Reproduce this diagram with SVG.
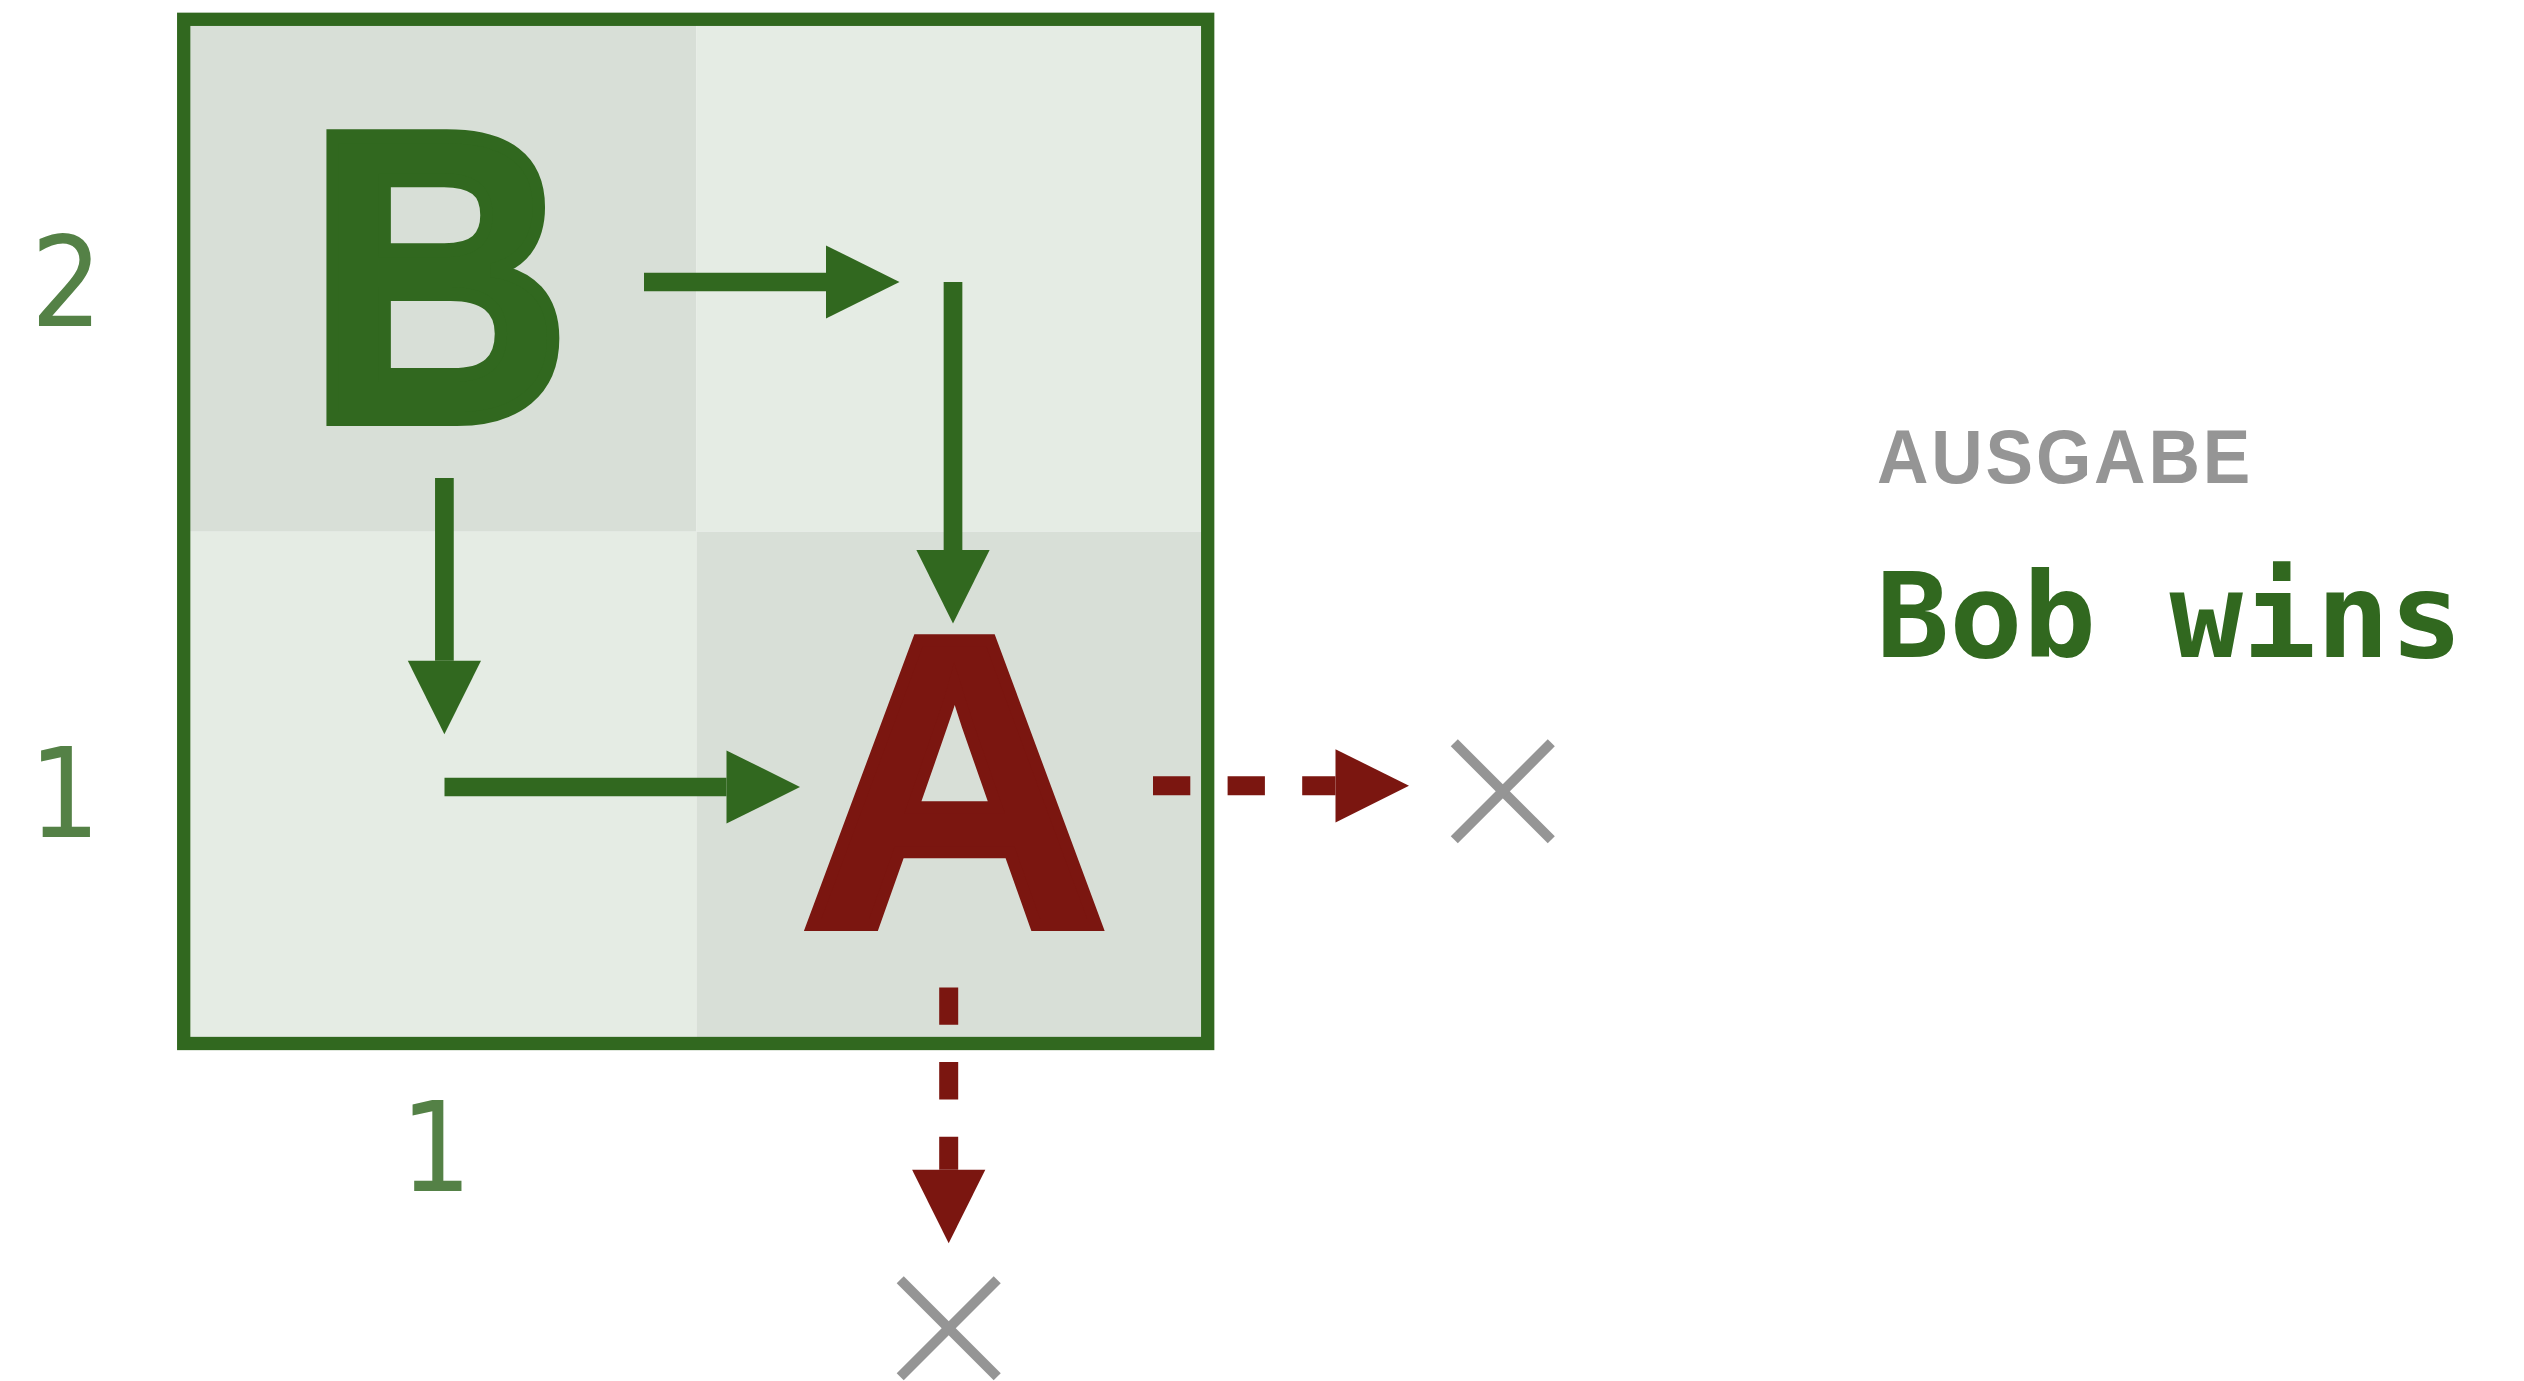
<svg xmlns="http://www.w3.org/2000/svg" width="2524" height="1381" viewBox="0 0 2524 1381">
  <style>
    .cell-dark { fill: #d8dfd7; }
    .cell-light { fill: #e5ece4; }
    .frame { fill: none; stroke: #31681f; stroke-width: 13.3; }
    .axis { font-family: "DejaVu Sans", "Liberation Sans", sans-serif; font-size: 125px; fill: #548146; text-anchor: middle; }
    .piece { font-family: "Liberation Sans", Arial, sans-serif; font-weight: bold; text-anchor: middle; stroke-linejoin: miter; }
    .green-arrow { stroke: #31681f; stroke-width: 18.7; fill: none; stroke-linecap: butt; marker-end: url(#head-green); }
    .red-arrow { stroke: #7b1610; stroke-width: 19; fill: none; stroke-linecap: butt; stroke-dasharray: 37.3 37.3; marker-end: url(#head-red); }
    .cross { stroke: #959595; stroke-width: 10; stroke-linecap: butt; fill: none; }
    .caption { font-family: "Liberation Sans", Arial, sans-serif; font-weight: bold; font-size: 76px; fill: #959595; letter-spacing: 3px; }
    .result { font-family: "DejaVu Sans Mono", "Liberation Mono", monospace; font-weight: bold; font-size: 118px; fill: #31681f; }
  </style>
  <defs>
    <marker id="head-green" markerUnits="userSpaceOnUse" viewBox="0 0 74 74" refX="0" refY="36.6" markerWidth="74" markerHeight="74" orient="auto" overflow="visible">
      <path d="M0,0 L73.5,36.6 L0,73.2 Z" fill="#31681f"/>
    </marker>
    <marker id="head-red" markerUnits="userSpaceOnUse" viewBox="0 0 74 74" refX="0" refY="36.6" markerWidth="74" markerHeight="74" orient="auto" overflow="visible">
      <path d="M0,0 L73.5,36.6 L0,73.2 Z" fill="#7b1610"/>
    </marker>
  </defs>

  <rect width="2524" height="1381" fill="#ffffff"/>

  <g id="board">
    <rect class="cell-dark" x="183.7" y="19.3" width="512.8" height="512.4"/>
    <rect class="cell-light" x="696.5" y="19.3" width="511.2" height="512.4"/>
    <rect class="cell-light" x="183.7" y="531.7" width="512.8" height="511.8"/>
    <rect class="cell-dark" x="696.5" y="531.7" width="511.2" height="511.8"/>
    <rect class="frame" x="183.7" y="19.3" width="1024" height="1024.2"/>
  </g>

  <g id="axis-labels">
    <text id="row-2" class="axis" transform="translate(66.5 326) scale(0.9 1)">2</text>
    <text id="row-1" class="axis" transform="translate(64.5 837.3) scale(0.9 1)">1</text>
    <text id="col-1" class="axis" transform="translate(436 1190.7) scale(0.9 1)">1</text>
  </g>

  <g id="node-B">
    <text class="piece" transform="translate(439 419) scale(0.88 1)" font-size="411" fill="#31681f" stroke="#31681f" stroke-width="14">B</text>
  </g>

  <g id="node-A">
    <text class="piece" transform="translate(954.6 925) scale(1.02 1)" font-size="414" fill="#7b1610" stroke="#7b1610" stroke-width="12">A</text>
  </g>

  <g id="connectors">
    <line class="green-arrow" x1="644" y1="282" x2="826" y2="282"/>
    <line class="green-arrow" x1="953" y1="282" x2="953" y2="550"/>
    <line class="green-arrow" x1="444.4" y1="478" x2="444.4" y2="660.8"/>
    <line class="green-arrow" x1="444.5" y1="787" x2="726.5" y2="787"/>
    <line class="red-arrow" x1="1153" y1="785.8" x2="1335.5" y2="785.8"/>
    <line class="red-arrow" x1="948.7" y1="987.5" x2="948.7" y2="1169.8"/>
  </g>

  <g id="node-x-right">
    <line class="cross" x1="1454.3" y1="742.8" x2="1551.3" y2="839.8"/>
    <line class="cross" x1="1551.3" y1="742.8" x2="1454.3" y2="839.8"/>
  </g>
  <g id="node-x-bottom">
    <line class="cross" x1="900.2" y1="1279.8" x2="997.2" y2="1376.8"/>
    <line class="cross" x1="997.2" y1="1279.8" x2="900.2" y2="1376.8"/>
  </g>

  <g id="output">
    <text class="caption" x="1877" y="482.7" textLength="376" lengthAdjust="spacingAndGlyphs">AUSGABE</text>
    <text class="result" x="1876" y="657.3" textLength="587" lengthAdjust="spacingAndGlyphs" xml:space="preserve">Bob wins</text>
  </g>
</svg>
